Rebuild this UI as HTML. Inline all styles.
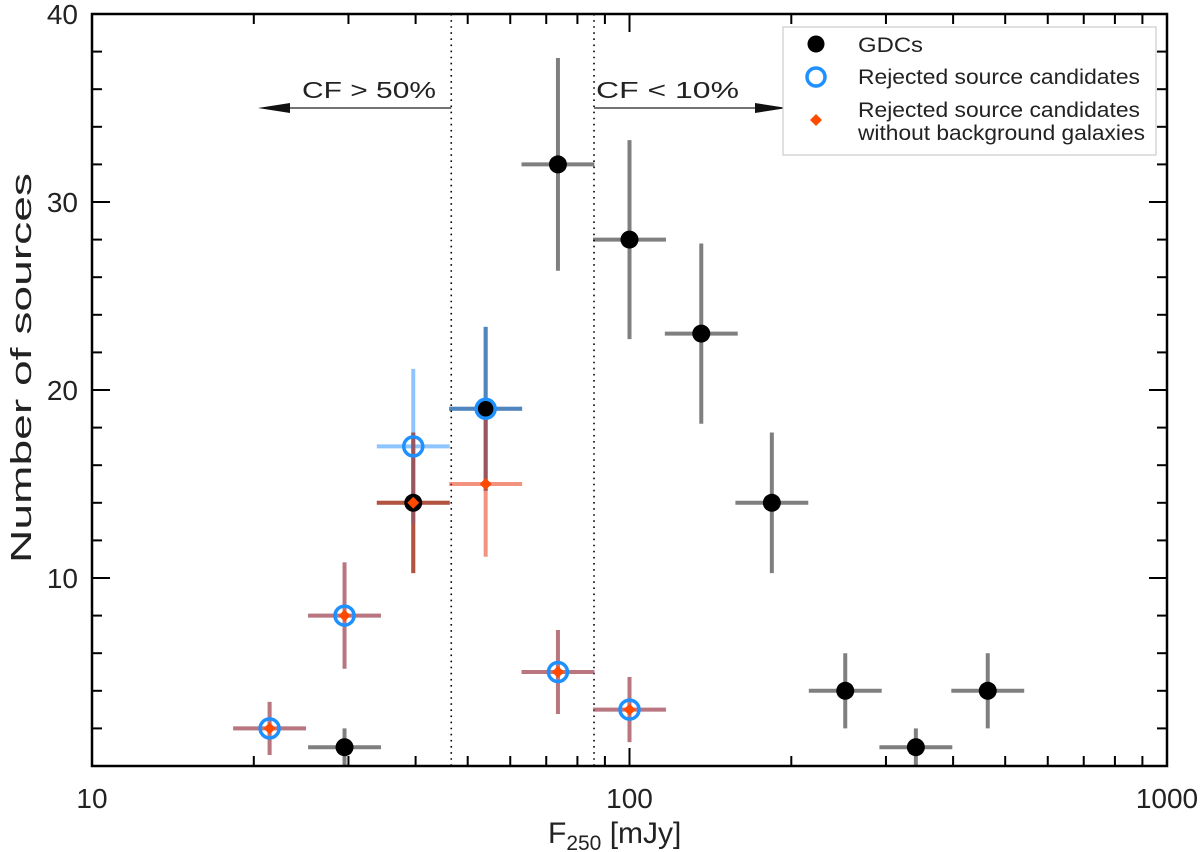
<!DOCTYPE html>
<html><head><meta charset="utf-8"><style>
body{margin:0;background:#fff;}
svg{display:block;font-family:"Liberation Sans","DejaVu Sans",sans-serif;}
</style></head><body>
<svg id="chart" width="1200" height="852" viewBox="0 0 1200 852"></svg>
<script>
const gdcFlux = [29.5, 39.6, 54, 73.6, 100, 136, 184, 252, 341, 464];
const gdcCount = [1, 14, 19, 32, 28, 23, 14, 4, 1, 4];
const rejFlux = [21.4, 29.5, 39.6, 54, 73.6, 100];
const rejCount = [2, 8, 17, 19, 5, 3];
const noBgFlux = [21.4, 29.5, 39.6, 54, 73.6, 100];
const noBgCount = [2, 8, 14, 15, 5, 3];
const yTickLabels = [10, 20, 30, 40];
const xTickLabels = [10, 100, 1000];
const cfLimits = [46.6, 85.9];

const L=92,R=1167,T=14,B=766;
const xs=v=>L+(Math.log10(v)-1)/2*(R-L);
const ys=v=>B-v/40*(B-T);
const binF=1.169;
const NS='http://www.w3.org/2000/svg';
const svg=document.getElementById('chart');
function mk(tag,attrs,parent){const e=document.createElementNS(NS,tag);for(const k in attrs)e.setAttribute(k,attrs[k]);(parent||svg).appendChild(e);return e;}

cfLimits.forEach((f,i)=>{
  const l=mk('line',{x1:xs(f),x2:xs(f),y1:T,y2:B,stroke:'#000','stroke-width':1.6,'stroke-dasharray':'1.6,4.5'});
  
  
});
const ay=108;
let a1=mk('line',{x1:xs(cfLimits[0]),x2:285,y1:ay,y2:ay,stroke:'#222','stroke-width':1.3});

mk('polygon',{points:`258,${ay} 290,${ay-5} 290,${ay+5}`,fill:'#111'});
let a2=mk('line',{x1:xs(cfLimits[1]),x2:760,y1:ay,y2:ay,stroke:'#222','stroke-width':1.3});

mk('polygon',{points:`787,${ay} 755,${ay-5} 755,${ay+5}`,fill:'#111'});
let t1=mk('text',{x:302,y:98,'font-size':23,fill:'#222',textLength:134,lengthAdjust:'spacingAndGlyphs'});t1.textContent='CF > 50%';

let t2=mk('text',{x:596,y:98,'font-size':23,fill:'#222',textLength:143,lengthAdjust:'spacingAndGlyphs'});t2.textContent='CF < 10%';


function errbar(f,n,color,name){
  const g=mk('g',{stroke:color,'stroke-width':4});
  
  const e=Math.sqrt(n);
  mk('line',{x1:xs(f/binF),x2:xs(f*binF),y1:ys(n),y2:ys(n)},g);
  mk('line',{x1:xs(f),x2:xs(f),y1:ys(Math.max(0,n-e)),y2:ys(n+e)},g);
}
gdcFlux.forEach((f,i)=>errbar(f,gdcCount[i],'rgba(0,0,0,0.5)','gdc-errorbar'));
rejFlux.forEach((f,i)=>errbar(f,rejCount[i],'rgba(30,140,255,0.5)','rejected-errorbar'));
noBgFlux.forEach((f,i)=>errbar(f,noBgCount[i],'rgba(230,40,0,0.5)','nobg-errorbar'));
gdcFlux.forEach((f,i)=>{const c=mk('circle',{cx:xs(f),cy:ys(gdcCount[i]),r:9,fill:'#000'});
  });
rejFlux.forEach((f,i)=>{const c=mk('circle',{cx:xs(f),cy:ys(rejCount[i]),r:9.5,fill:'none',stroke:'#1e90ff','stroke-width':3.5});
  });
noBgFlux.forEach((f,i)=>{const x=xs(f),y=ys(noBgCount[i]);
  const p=mk('polygon',{points:`${x},${y-6} ${x+6},${y} ${x},${y+6} ${x-6},${y}`,fill:'#ff4a00'});
  });

const fr=mk('rect',{x:L,y:T,width:R-L,height:B-T,fill:'none',stroke:'#000','stroke-width':2.5});

for(let v=2;v<40;v+=2){const maj=v%10===0,len=maj?18:10;
  mk('line',{x1:L,x2:L+len,y1:ys(v),y2:ys(v),stroke:'#000','stroke-width':2});
  mk('line',{x1:R,x2:R-len,y1:ys(v),y2:ys(v),stroke:'#000','stroke-width':2});}
yTickLabels.forEach(v=>{const t=mk('text',{x:L-14,y:ys(v)+10,'font-size':28,'text-anchor':'end',fill:'#222'});t.textContent=v;
  });
[10,100].forEach(d=>{for(let m=1;m<=10;m++){const v=d*m;if(v<=10||v>=1000)continue;const maj=(m===1||m===10),len=maj?18:10;
  mk('line',{x1:xs(v),x2:xs(v),y1:B,y2:B-len,stroke:'#000','stroke-width':2});
  mk('line',{x1:xs(v),x2:xs(v),y1:T,y2:T+len,stroke:'#000','stroke-width':2});}});
xTickLabels.forEach(v=>{const t=mk('text',{x:xs(v),y:B+42,'font-size':28,'text-anchor':'middle',fill:'#222'});t.textContent=v;
  });
const xt=mk('text',{x:548,y:843,'font-size':30,fill:'#222'});
xt.innerHTML='F<tspan font-size="21" dy="7">250</tspan><tspan dy="-7"> [mJy]</tspan>';

const yt=mk('text',{x:0,y:0,'font-size':29,'text-anchor':'middle',fill:'#222',transform:'translate(31,368) rotate(-90)',textLength:390,lengthAdjust:'spacingAndGlyphs'});
yt.textContent='Number of sources';


const lg=mk('g',{});
mk('rect',{x:783,y:27,width:373,height:128,fill:'#fff',stroke:'#ccc','stroke-width':1.2},lg);
mk('circle',{cx:816,cy:44,r:8.5,fill:'#000'},lg);
mk('circle',{cx:816,cy:77,r:9,fill:'none',stroke:'#1e90ff','stroke-width':3.5},lg);
mk('polygon',{points:'816,114 822,120 816,126 810,120',fill:'#ff4a00'},lg);
[['GDCs',52,65],['Rejected source candidates',84,282],['Rejected source candidates',117,282],['without background galaxies',140,287]].forEach(([s,y,w])=>{
  const t=mk('text',{x:858,y:y,'font-size':21,fill:'#222',textLength:w,lengthAdjust:'spacingAndGlyphs'},lg);t.textContent=s;
  });
</script>
</body></html>
